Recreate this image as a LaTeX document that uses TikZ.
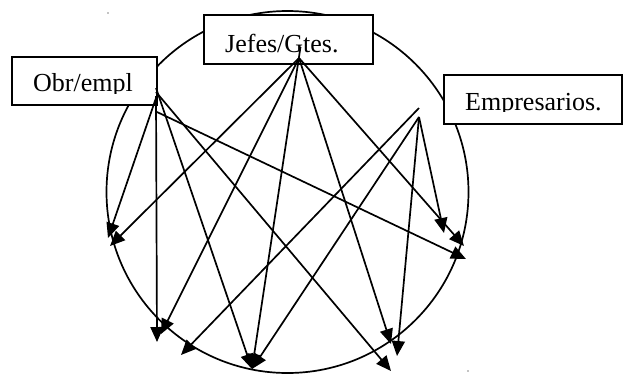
\documentclass[tikz,border=0pt]{standalone}
\usepackage{fontspec}
\setmainfont{Liberation Serif}
\usetikzlibrary{arrows.meta}
\begin{document}
\begin{tikzpicture}[x=1pt,y=-1pt,
  conn/.style={-{Triangle[length=15pt,width=13pt]}, line width=1.7pt},
  box/.style={draw, fill=white, line width=1.7pt, anchor=north west, inner sep=0pt},
  lbl/.style={anchor=base west, inner sep=0pt, font=\fontsize{26}{30}\selectfont},
  speck/.style={fill=black, inner sep=0pt, minimum size=1.2pt, circle}]
\useasboundingbox (0,0) rectangle (624,373);
% ring
\node[circle, draw, line width=1.7pt, minimum size=362pt, inner sep=0pt] (ring) at (287.5,192) {};
% boxes
\node[box, minimum width=145pt, minimum height=48pt] (obr) at (11,56) {};
\node[box, minimum width=169pt, minimum height=49pt] (jef) at (203,14) {};
\node[box, minimum width=178pt, minimum height=49pt] (emp) at (443,74) {};
\begin{scope}
  \clip (11,56) rectangle (156,93.5);
  \node[lbl] (obrt) at (33,91.5) {Obr/empl};
\end{scope}
\node[lbl] (jeft) at (225,52) {Jefes/Gtes.};
\begin{scope}
  \clip (443,74) rectangle (622,111);
  \node[lbl] (empt) at (465,110) {Empresarios.};
\end{scope}
% hubs
\coordinate (oa) at (156,98);
\coordinate (ob) at (156,96);
\coordinate (oc) at (156,88);
\coordinate (od) at (157,112);
\coordinate (oe) at (156,92);
\coordinate (jh) at (299,58);
\coordinate (jtop) at (300.5,47);
\coordinate (eh) at (419,117);
\coordinate (etop) at (419,108);
% targets
\coordinate (t1) at (108,238);
\coordinate (t2) at (110,246);
\coordinate (t3) at (157,342);
\coordinate (t4) at (161,334);
\coordinate (t5) at (181,355);
\coordinate (t6) at (252,369);
\coordinate (t7) at (391,344);
\coordinate (t8) at (397,356);
\coordinate (t9) at (391,371);
\coordinate (t10) at (444,233);
\coordinate (t11) at (464,246);
\coordinate (t12) at (466,259);
% Obr/empl connectors
\draw[conn] (oa) -- (t1);
\draw[conn] (ob) -- (t3);
\draw[conn] (oc) -- (t6);
\draw[conn] (od) -- (t12);
\draw[conn] (oe) -- (t9);
% Jefes connectors
\draw[conn] (jh) -- (t2);
\draw[conn] (jh) -- (t4);
\draw[conn] (jtop) -- (t6);
\draw[conn] (jh) -- (t7);
\draw[conn] (jh) -- (t11);
% Empresarios connectors
\draw[conn] (etop) -- (t5);
\draw[conn] (eh) -- (t6);
\draw[conn] (eh) -- (t8);
\draw[conn] (eh) -- (t10);
% specks
\node[speck] (s1) at (108,13) {};
\node[speck] (s2) at (468,371) {};
\end{tikzpicture}
\end{document}
